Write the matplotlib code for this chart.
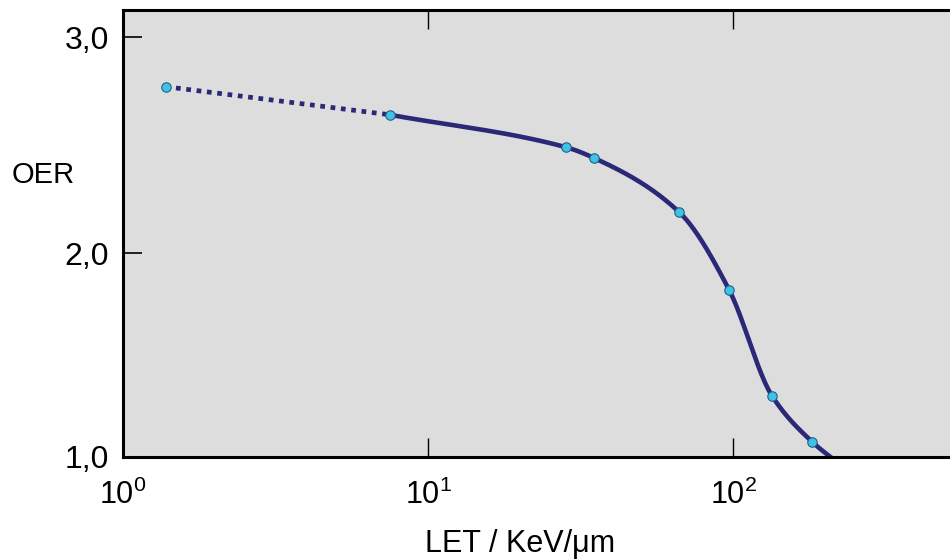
import numpy as np
import matplotlib
matplotlib.use('Agg')
import matplotlib.pyplot as plt

plt.rcParams['font.family'] = ['Liberation Sans', 'DejaVu Sans']
plt.rcParams['mathtext.fontset'] = 'custom'
plt.rcParams['mathtext.rm'] = 'Liberation Sans'
plt.rcParams['mathtext.it'] = 'Liberation Sans:italic'

# measured points (LET in keV/um, OER)
let = [1.38, 7.5, 28.3, 35, 66.5, 97, 134, 182]
oer = [2.77, 2.64, 2.49, 2.44, 2.19, 1.83, 1.34, 1.125]
# where the fitted curve leaves the bottom of the plot
let_end = 225
oer_end = 1.02

line_col = '#2b2878'
dot_col = '#3ec3e6'


def pchip(x, y, xs):
    # monotone cubic hermite (Fritsch-Carlson), no scipy needed
    x = np.asarray(x, float)
    y = np.asarray(y, float)
    h = np.diff(x)
    d = np.diff(y) / h
    m = np.zeros_like(y)
    m[0] = d[0]
    m[-1] = d[-1]
    for k in range(1, len(x) - 1):
        if d[k - 1] * d[k] <= 0:
            m[k] = 0
        else:
            w1 = 2 * h[k] + h[k - 1]
            w2 = h[k] + 2 * h[k - 1]
            m[k] = (w1 + w2) / (w1 / d[k - 1] + w2 / d[k])
    out = np.empty_like(xs)
    idx = np.clip(np.searchsorted(x, xs) - 1, 0, len(x) - 2)
    for j, xv in enumerate(xs):
        k = idx[j]
        t = (xv - x[k]) / h[k]
        h00 = 2 * t**3 - 3 * t**2 + 1
        h10 = t**3 - 2 * t**2 + t
        h01 = -2 * t**3 + 3 * t**2
        h11 = t**3 - t**2
        out[j] = h00 * y[k] + h10 * h[k] * m[k] + h01 * y[k + 1] + h11 * h[k] * m[k + 1]
    return out


fig = plt.figure(figsize=(9.5, 5.6), dpi=100)
ax = fig.add_axes([123 / 950, 103 / 560, 1 - 123 / 950, 447 / 560])
ax.set_facecolor('#dddddd')

# solid fitted curve from the second point on
lx = np.log10(let[1:] + [let_end])
ly = np.array(oer[1:] + [oer_end])
xs = np.linspace(lx[0], lx[-1], 400)
ax.plot(10**xs, pchip(lx, ly, xs), color=line_col, lw=3.3, solid_capstyle='butt', zorder=2)
# dotted extrapolation to the lowest LET
ax.plot(let[:2], oer[:2], color=line_col, lw=3.4, linestyle=(0, (1, 1.2)),
        dash_capstyle='butt', zorder=2)
ax.plot(let, oer, 'o', ms=6.8, mfc=dot_col, mec='#1f5f8a', mew=0.8, zorder=3)

ax.set_xscale('log')
ax.set_xlim(1, 10**2.711)
ax.set_ylim(1.056, 3.125)
ax.set_xticks([1, 10, 100])
ax.xaxis.set_minor_locator(matplotlib.ticker.NullLocator())
ax.set_yticks([1.056, 2.0, 3.0])
ax.set_yticklabels(['1,0', '2,0', '3,0'])

ax.spines['right'].set_visible(False)
for s in ['left', 'bottom', 'top']:
    ax.spines[s].set_linewidth(2.2)
ax.tick_params(axis='x', which='major', direction='in', top=True, bottom=True,
               length=14, width=1.0, labelsize=22, pad=16)
ax.tick_params(axis='y', which='major', direction='in', length=14, width=1.2,
               labelsize=23, pad=10)
ax.yaxis.get_major_ticks()[0].tick1line.set_visible(False)

ax.set_xlabel('LET / KeV/μm', fontsize=22)
ax.xaxis.set_label_coords(0.48, -0.16)
ax.set_ylabel('OER', fontsize=21, rotation=0, ha='left', va='center')
ax.yaxis.set_label_coords(-0.135, 0.63)

fig.savefig('out.png', dpi=100)
